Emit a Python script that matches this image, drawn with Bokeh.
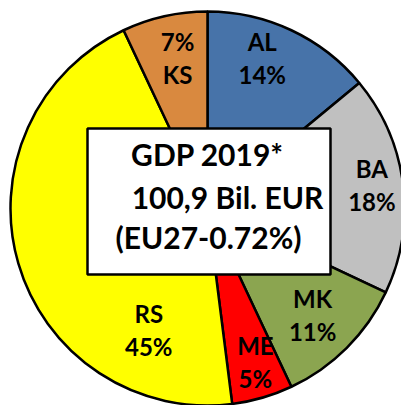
import math
from bokeh.plotting import figure
from bokeh.models import Range1d
from bokeh.core.properties import value
from bokeh.embed import file_html
from bokeh.resources import INLINE

# ---- data ----
countries = ["AL", "BA", "MK", "ME", "RS", "KS"]
shares = [14, 18, 11, 5, 45, 7]
colors = ["#4773A9", "#C0C0C0", "#8BA550", "#FF0000", "#FFFF00", "#D9893F"]
box_lines = ["GDP 2019*", "100,9 Bil. EUR", "(EU27-0.72%)"]

# ---- layout (styles / positions) ----
W, H = 401, 405
cx, cy, R = 207, H - 208, 197
label_pos = {  # (clockwise angle from top in degrees, radius) for label centre
    "AL": (20, 160), "BA": (82, 166), "MK": (135.5, 150),
    "ME": (162.7, 161), "RS": (205.8, 135), "KS": (348.7, 153),
}
percent_first = {"KS"}
FONT = "Lato"

p = figure(width=W, height=H, output_backend="svg", toolbar_location=None,
           x_range=Range1d(0, W), y_range=Range1d(0, H), min_border=0)
p.axis.visible = False
p.grid.visible = False
p.outline_line_color = None
p.background_fill_color = "white"
p.border_fill_color = "white"

total = sum(shares)
cum = 0
starts, ends = [], []
for s in shares:
    a1 = cum / total * 360
    cum += s
    a2 = cum / total * 360
    starts.append(math.radians(90 - a2))
    ends.append(math.radians(90 - a1))

p.wedge(x=[cx] * len(shares), y=[cy] * len(shares), radius=R,
        start_angle=starts, end_angle=ends, fill_color=colors,
        line_color="black", line_width=2.5)

# slice labels
for name, share in zip(countries, shares):
    ang, r = label_pos[name]
    lx = cx + r * math.sin(math.radians(ang))
    ly = cy + r * math.cos(math.radians(ang))
    lines = [f"{share}%", name] if name in percent_first else [name, f"{share}%"]
    p.text(x=[lx, lx], y=[ly + 16.5, ly - 16.5], text=lines,
           text_font=value(FONT), text_font_style="bold", text_font_size="24px",
           text_align="center", text_baseline="middle", text_color="black")

# central box
bx0, bx1, by_top, by_bot = 87, 330, H - 128, H - 274
p.quad(left=[bx0], right=[bx1], top=[by_top], bottom=[by_bot],
       fill_color="white", line_color="black", line_width=2.5)
p.text(x=[207, 227, 208], y=[H - 153, H - 196, H - 236], text=box_lines,
       text_font=value(FONT), text_font_style="bold", text_font_size="30px",
       text_align="center", text_baseline="middle", text_color="black")

open("out.html", "w").write(file_html(p, INLINE))
